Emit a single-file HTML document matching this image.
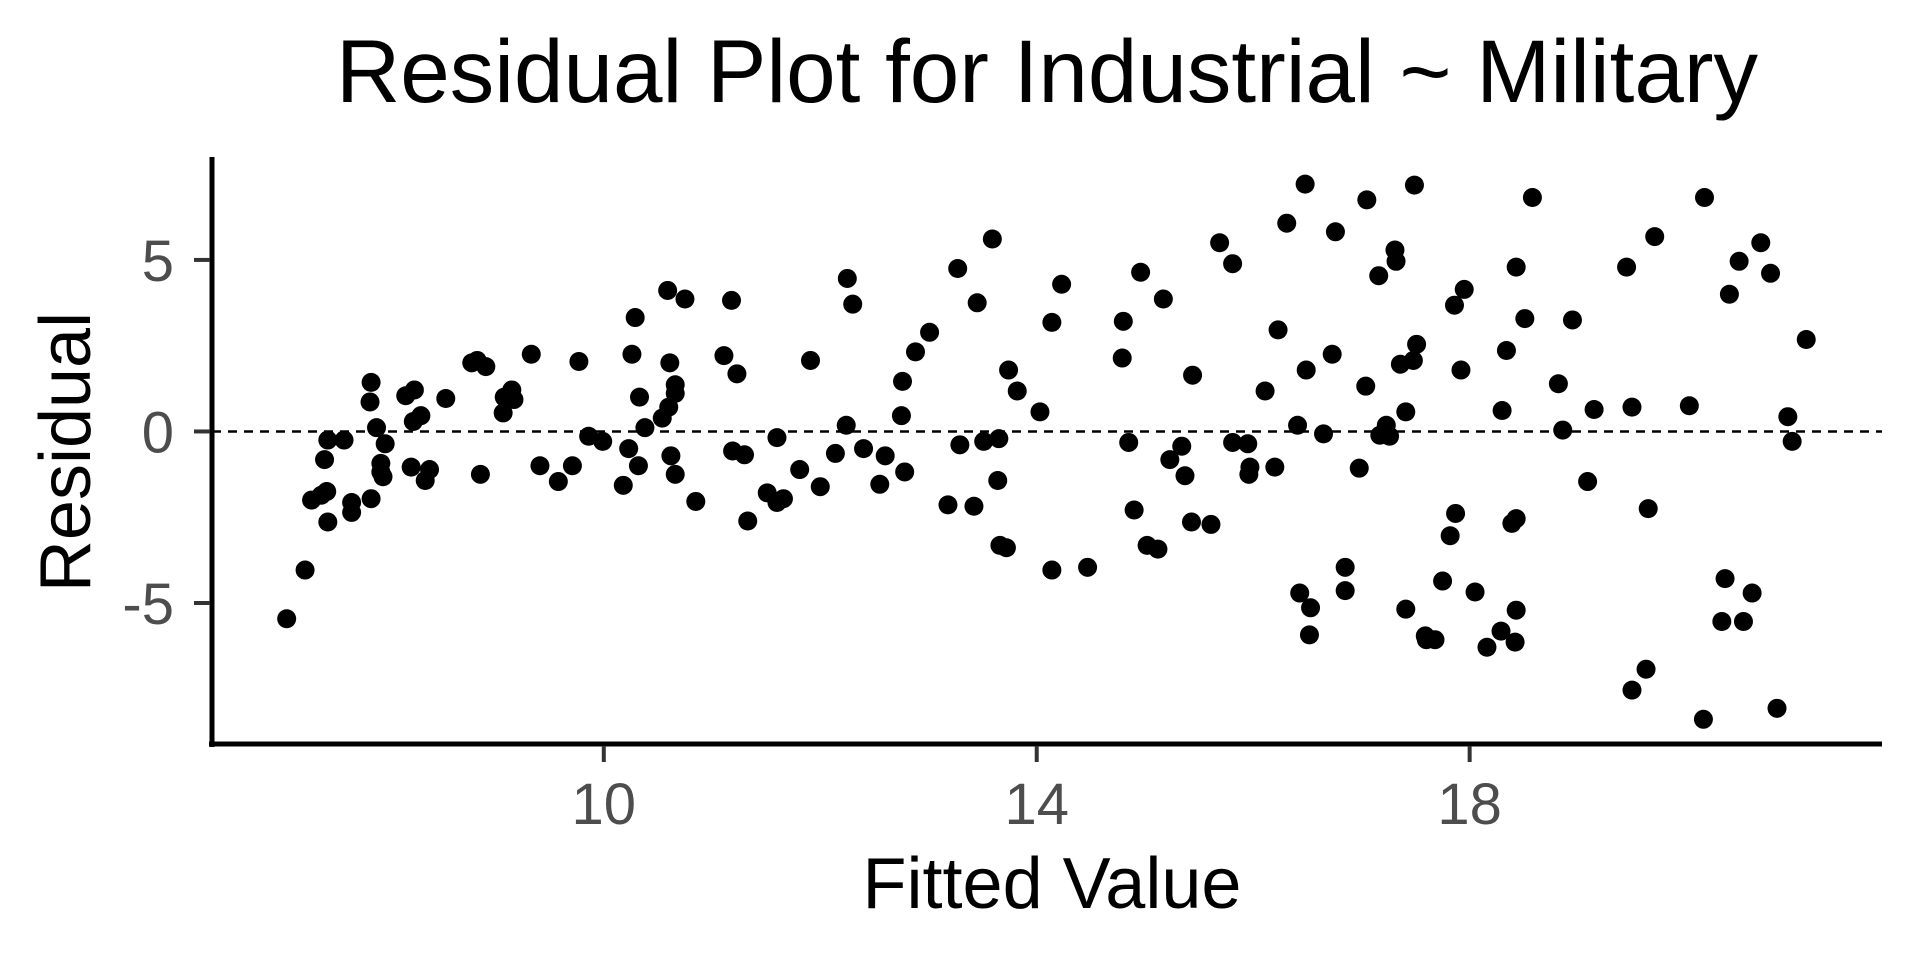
<!DOCTYPE html>
<html><head><meta charset="utf-8"><style>html,body{margin:0;padding:0;background:#fff}svg{display:block}</style></head>
<body>
<svg id="chart" width="1920" height="960" xmlns="http://www.w3.org/2000/svg" font-family="Liberation Sans, Arial, sans-serif">
<rect width="1920" height="960" fill="#fff"/>
<text x="1047" y="102" font-size="89" text-anchor="middle" fill="#000">Residual Plot for Industrial ~ Military</text>
<g id="grid"></g>
<g id="pts"></g>
<g id="axes"></g>
<text x="1052" y="908" font-size="72" text-anchor="middle" fill="#000">Fitted Value</text>
<text transform="translate(90,452) rotate(-90)" font-size="72" text-anchor="middle" fill="#000">Residual</text>
</svg>
<script>
const fittedValues = [7.07,7.24,7.30,7.39,7.42,7.44,7.45,7.45,7.60,7.67,7.67,7.85,7.84,7.85,7.90,7.94,7.94,7.96,7.98,8.17,8.25,8.22,8.24,8.31,8.35,8.39,8.54,8.78,8.83,8.86,8.91,9.07,9.08,9.15,9.17,9.33,9.41,9.58,9.71,9.77,9.86,9.99,10.18,10.23,10.26,10.29,10.32,10.33,10.38,10.54,10.59,10.61,10.60,10.62,10.66,10.66,10.66,10.75,10.85,11.11,11.19,11.18,11.23,11.30,11.33,11.51,11.60,11.60,11.66,11.81,11.91,12.00,12.14,12.24,12.25,12.30,12.40,12.55,12.60,12.75,12.76,12.78,12.88,13.01,13.18,13.27,13.29,13.42,13.45,13.51,13.59,13.64,13.65,13.66,13.72,13.74,13.82,14.03,14.14,14.14,14.23,14.47,14.79,14.80,14.85,14.90,14.96,15.02,15.12,15.17,15.23,15.34,15.37,15.43,15.44,15.61,15.69,15.81,15.81,15.95,15.96,15.97,16.11,16.20,16.23,16.31,16.41,16.43,16.48,16.49,16.53,16.52,16.65,16.73,16.76,16.85,16.85,16.98,17.04,17.05,17.16,17.17,17.23,17.26,17.31,17.32,17.36,17.41,17.41,17.49,17.48,17.51,17.59,17.60,17.68,17.75,17.82,17.87,17.86,17.92,17.95,18.05,18.16,18.29,18.30,18.34,18.39,18.42,18.43,18.43,18.43,18.51,18.58,18.82,18.86,18.95,19.09,19.15,19.45,19.50,19.50,19.63,19.65,19.71,20.03,20.17,20.16,20.33,20.36,20.40,20.49,20.53,20.61,20.69,20.78,20.84,20.94,20.98,21.11];
const residuals = [-5.46,-4.04,-2.0,-1.86,-0.82,-1.75,-2.64,-0.25,-0.25,-2.07,-2.36,1.43,0.86,-1.96,0.11,-0.93,-1.18,-1.32,-0.36,1.04,1.21,-1.04,0.29,0.46,-1.43,-1.11,0.96,2.0,2.07,-1.25,1.89,0.54,1.0,1.21,0.93,2.25,-1.0,-1.46,-1.0,2.04,-0.14,-0.29,-1.57,-0.5,2.25,3.32,-1.0,1.0,0.11,0.39,4.11,2.0,0.71,-0.71,1.36,1.11,-1.25,3.86,-2.04,2.21,-0.57,3.82,1.68,-0.68,-2.61,-1.79,-0.18,-2.07,-1.96,-1.11,2.07,-1.61,-0.64,0.18,4.46,3.71,-0.5,-1.54,-0.71,0.46,1.46,-1.18,2.32,2.89,-2.14,4.75,-0.39,-2.18,3.75,-0.29,5.61,-1.43,-0.21,-3.32,-3.39,1.79,1.18,0.57,-4.04,3.18,4.29,-3.96,2.14,3.21,-0.32,-2.29,4.64,-3.32,-3.43,3.86,-0.82,-0.43,-1.29,-2.64,1.64,-2.71,5.5,4.89,-0.32,-0.36,-1.25,-1.04,1.18,-1.04,2.96,6.07,0.18,-4.71,7.21,1.79,-5.14,-5.93,-0.07,2.25,5.82,-3.96,-4.64,-1.07,1.32,6.75,4.54,-0.11,0.18,-0.14,5.29,4.96,1.96,0.57,-5.18,7.18,2.07,2.54,-5.96,-6.07,-6.07,-4.36,-3.04,-2.39,3.68,1.79,4.14,-4.68,-6.29,-5.82,0.61,2.36,-2.68,-6.14,4.79,-2.54,-5.21,3.29,6.82,1.39,0.04,3.25,-1.46,0.64,4.79,-7.54,0.71,-6.93,-2.25,5.68,0.75,6.82,-8.39,-5.54,-4.29,4.0,4.96,-5.54,-4.71,5.5,4.61,-8.07,0.43,-0.29,2.68];
const xTicks = [10, 14, 18];
const yTicks = [5, 0, -5];

const NS = 'http://www.w3.org/2000/svg';
const L = 212, R = 1882, T = 157, B = 744;
const XMIN = 6.38, XMAX = 21.81, YMIN = -9.11, YMAX = 8.0;
function sx(v){ return L + (v - XMIN) / (XMAX - XMIN) * (R - L); }
function sy(v){ return B - (v - YMIN) / (YMAX - YMIN) * (B - T); }
function mk(tag, attrs, parent){ const e = document.createElementNS(NS, tag); for (const k in attrs) e.setAttribute(k, attrs[k]); parent.appendChild(e); return e; }

const grid = document.getElementById('grid');
const zl = mk('line', {x1: L, x2: R, y1: sy(0), y2: sy(0), stroke: '#000', 'stroke-width': 2.5, 'stroke-dasharray': '9,7'}, grid);



const pts = document.getElementById('pts');
for (let i = 0; i < fittedValues.length; i++) {
  const c = mk('circle', {cx: sx(fittedValues[i]), cy: sy(residuals[i]), r: 9.5, fill: '#000'}, pts);
  
  
}

const axes = document.getElementById('axes');
const ya = mk('line', {x1: L, x2: L, y1: T, y2: B + 3, stroke: '#000', 'stroke-width': 5}, axes);


const xa = mk('line', {x1: L - 3, x2: R, y1: B, y2: B, stroke: '#000', 'stroke-width': 5}, axes);



xTicks.forEach(function(t){
  const tk = mk('line', {x1: sx(t), x2: sx(t), y1: B + 2, y2: B + 18, stroke: '#333', 'stroke-width': 4}, axes);
  
  
  const lb = mk('text', {x: sx(t), y: 824, 'font-size': 58, 'text-anchor': 'middle', fill: '#4d4d4d'}, axes);
  
  
  lb.textContent = String(t);
});
yTicks.forEach(function(t){
  const tk = mk('line', {x1: L - 18, x2: L - 2, y1: sy(t), y2: sy(t), stroke: '#333', 'stroke-width': 4}, axes);
  
  
  const lb = mk('text', {x: 174, y: sy(t) + 21, 'font-size': 58, 'text-anchor': 'end', fill: '#4d4d4d'}, axes);
  
  
  lb.textContent = String(t);
});
</script>
</body></html>
